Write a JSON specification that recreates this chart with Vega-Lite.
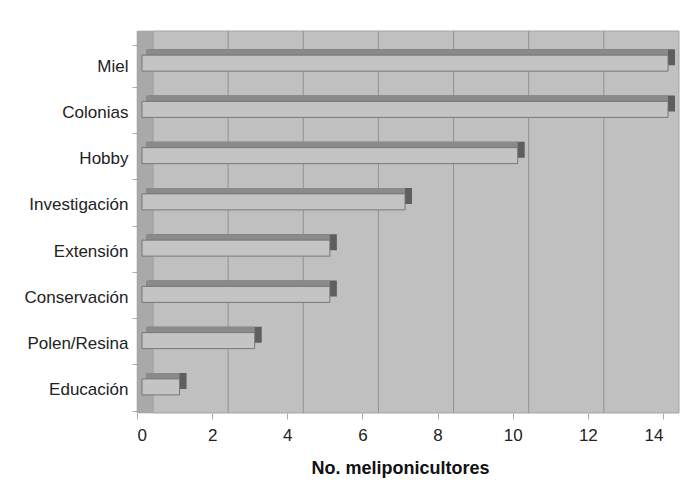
{
  "$schema": "https://vega.github.io/schema/vega-lite/v6.json",
  "autosize": "none",
  "width": 526,
  "height": 370,
  "padding": {"left": 137, "top": 43, "right": 19, "bottom": 82},
  "background": "white",
  "config": {
    "font": "Liberation Sans",
    "view": {"stroke": null, "fill": "#c0c0c0"}
  },
  "datasets": {
    "bars": [
      {"uso": "Miel", "n": 14},
      {"uso": "Colonias", "n": 14},
      {"uso": "Hobby", "n": 10},
      {"uso": "Investigación", "n": 7},
      {"uso": "Extensión", "n": 5},
      {"uso": "Conservación", "n": 5},
      {"uso": "Polen/Resina", "n": 3},
      {"uso": "Educación", "n": 1}
    ],
    "grid": [{"v": 2}, {"v": 4}, {"v": 6}, {"v": 8}, {"v": 10}, {"v": 12}]
  },
  "layer": [
    {
      "data": {"values": [{"a": 0, "b": 14}]},
      "mark": {"type": "rect", "color": "#c0c0c0", "stroke": "#a3a3a3", "strokeWidth": 1, "xOffset": 16, "x2Offset": 16, "yOffset": -12, "y2Offset": -12},
      "encoding": {
        "x": {"field": "a", "type": "quantitative", "scale": {"domain": [0, 14], "nice": false}, "axis": {"title": "No. meliponicultores", "values": [0, 2, 4, 6, 8, 10, 12, 14], "grid": false, "domain": false, "tickSize": 6, "tickColor": "#aaaaaa", "labelFontSize": 17, "labelColor": "#222222", "labelPadding": 8, "titleFontSize": 18, "titleFontWeight": "bold", "titleColor": "#111111", "titlePadding": 16}},
        "x2": {"field": "b"}
      }
    },
    {
      "data": {"values": [{"a": 0}]},
      "mark": {"type": "rect", "color": "#a9a9a9", "stroke": "#999999", "strokeWidth": 0.5, "x2Offset": 16, "yOffset": -12, "y2Offset": 0},
      "encoding": {
        "x": {"field": "a", "type": "quantitative"},
        "x2": {"field": "a"}
      }
    },
    {
      "data": {"name": "grid"},
      "mark": {"type": "rule", "color": "#929292", "strokeWidth": 1, "xOffset": 16, "x2Offset": 16, "yOffset": -12, "y2Offset": -12},
      "encoding": {
        "x": {"field": "v", "type": "quantitative"}
      }
    },
    {
      "data": {"name": "bars"},
      "mark": {"type": "bar", "color": "#5e5e5e", "height": 16, "xOffset": 12, "x2Offset": 12, "yOffset": -9},
      "encoding": {
        "y": {"field": "uso", "type": "nominal", "sort": null, "title": null, "axis": {"domain": false, "tickBand": "extent", "tickSize": 5, "tickColor": "#aaaaaa", "labelFontSize": 17, "labelColor": "#222222", "labelPadding": 4, "labelOffset": 0}},
        "x": {"field": "n", "type": "quantitative"},
        "x2": {"datum": 0}
      }
    },
    {
      "data": {"name": "bars"},
      "mark": {"type": "bar", "color": "#8a8a8a", "height": 16, "xOffset": 5, "x2Offset": 9, "yOffset": -9},
      "encoding": {
        "y": {"field": "uso", "type": "nominal", "sort": null},
        "x": {"field": "n", "type": "quantitative"},
        "x2": {"datum": 0}
      }
    },
    {
      "data": {"name": "bars"},
      "mark": {"type": "bar", "color": "#c4c4c4", "stroke": "#777777", "strokeWidth": 1, "height": 16, "xOffset": 5, "x2Offset": 5, "yOffset": -3},
      "encoding": {
        "y": {"field": "uso", "type": "nominal", "sort": null},
        "x": {"field": "n", "type": "quantitative"},
        "x2": {"datum": 0}
      }
    }
  ]
}
